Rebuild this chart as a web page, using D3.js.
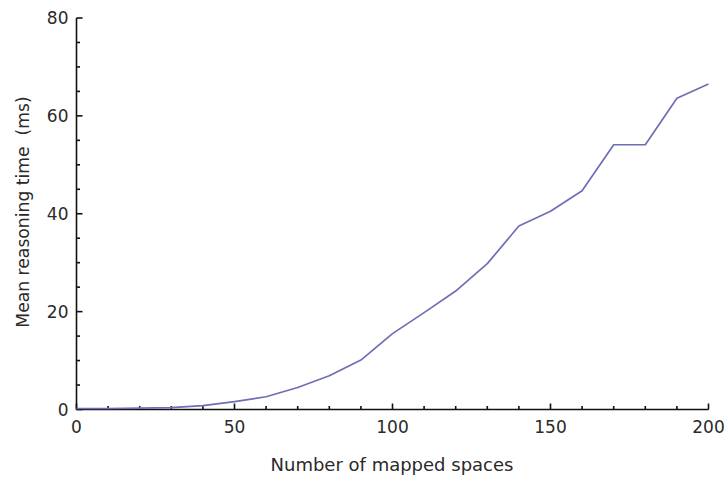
<!DOCTYPE html>
<html>
<head>
<meta charset="utf-8">
<script src="https://cdn.jsdelivr.net/npm/d3@7/dist/d3.min.js"></script>
<style>
  html, body { margin: 0; padding: 0; background: #fff; }
  svg { display: block; }
  text { font-family: "DejaVu Sans", Verdana, sans-serif; fill: #2a2a2a; }
</style>
</head>
<body>
<svg id="chart" width="728" height="479"></svg>
<script>
// Mapped spaces (x) and mean reasoning time in ms (y)
const spaces = [0, 10, 20, 30, 40, 50, 60, 70, 80, 90, 100, 110, 120, 130, 140, 150, 160, 170, 180, 190, 200];
const meanTime = [0.2, 0.2, 0.3, 0.4, 0.8, 1.6, 2.6, 4.5, 6.9, 10.1, 15.5, 19.8, 24.2, 29.8, 37.5, 40.5, 44.7, 54.1, 54.1, 63.6, 66.5];
const xMajorTicks = [0, 50, 100, 150, 200];
const yMajorTicks = [0, 20, 40, 60, 80];
const xLabel = "Number of mapped spaces";
const yLabel = "Mean reasoning time  (ms)";

const svg = d3.select("#chart");
const x = d3.scaleLinear().domain([0, 200]).range([76.5, 708.5]);
const y = d3.scaleLinear().domain([0, 80]).range([409.5, 18]);

const axisColor = "#111";
const axisWidth = 1.6;

// Minor ticks every 10 on x and every 5 on y, pointing into the plot
const xMinor = d3.range(0, 201, 10).filter(v => !xMajorTicks.includes(v));
const yMinor = d3.range(0, 81, 5).filter(v => !yMajorTicks.includes(v));

const gx = svg.append("g").attr("transform", `translate(0,${y(0)})`);
gx.append("line").attr("x1", x(0)).attr("x2", x(200)).attr("stroke", axisColor).attr("stroke-width", axisWidth);
gx.selectAll(".maj").data(xMajorTicks).join("line")
  .attr("x1", d => x(d)).attr("x2", d => x(d)).attr("y1", 0).attr("y2", -6)
  .attr("stroke", axisColor).attr("stroke-width", axisWidth);
gx.selectAll(".min").data(xMinor).join("line")
  .attr("x1", d => x(d)).attr("x2", d => x(d)).attr("y1", 0).attr("y2", -3.5)
  .attr("stroke", axisColor).attr("stroke-width", axisWidth);
gx.selectAll("text").data(xMajorTicks).join("text")
  .attr("x", d => x(d)).attr("y", 23).attr("text-anchor", "middle")
  .attr("font-size", 17).text(d => d);

const gy = svg.append("g").attr("transform", `translate(${x(0)},0)`);
gy.append("line").attr("y1", y(0)).attr("y2", y(80)).attr("stroke", axisColor).attr("stroke-width", axisWidth);
gy.selectAll(".maj").data(yMajorTicks).join("line")
  .attr("y1", d => y(d)).attr("y2", d => y(d)).attr("x1", 0).attr("x2", 6)
  .attr("stroke", axisColor).attr("stroke-width", axisWidth);
gy.selectAll(".min").data(yMinor).join("line")
  .attr("y1", d => y(d)).attr("y2", d => y(d)).attr("x1", 0).attr("x2", 3.5)
  .attr("stroke", axisColor).attr("stroke-width", axisWidth);
gy.selectAll("text").data(yMajorTicks).join("text")
  .attr("x", -8).attr("y", d => y(d)).attr("dy", "0.36em").attr("text-anchor", "end")
  .attr("font-size", 17).text(d => d);

// Axis titles
svg.append("text").attr("x", 392).attr("y", 471).attr("text-anchor", "middle")
  .attr("font-size", 18).text(xLabel);
svg.append("text").attr("transform", "translate(29,212) rotate(-90)")
  .attr("text-anchor", "middle").attr("font-size", 17.2)
  .style("white-space", "pre").text(yLabel);

// Data line
const line = d3.line().x((d, i) => x(spaces[i])).y(d => y(d));
svg.append("path").datum(meanTime)
  .attr("d", line).attr("fill", "none")
  .attr("stroke", "#6e6eb6").attr("stroke-width", 1.7)
  .attr("stroke-linejoin", "round");
</script>
</body>
</html>
